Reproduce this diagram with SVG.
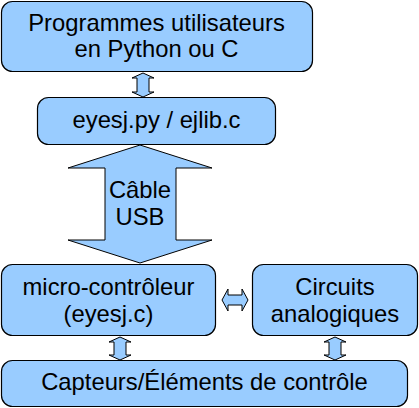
<svg xmlns="http://www.w3.org/2000/svg" width="419" height="408" viewBox="0 0 419 408">
<style>
.box{fill:#99ccff;stroke:#000;stroke-width:1.2}
.arr{fill:#99ccff;stroke:#000;stroke-width:1;stroke-linejoin:miter}
text{font-family:"Liberation Sans",Arial,sans-serif;font-size:23.8px;fill:#000;text-anchor:middle}
</style>
<rect width="419" height="408" fill="#fff"/>
<g id="connectors">
<polygon class="arr" points="143,73 154,78 149,78 149,92 154,92 143,97 132,92 137,92 137,78 132,78"/>
<polygon class="arr" points="140,145 212,168 176,168 176,240 212,240 140,263 68,240 105,240 105,168 68,168"/>
<polygon class="arr" points="222,300 228,289 228,295 242,295 242,289 248,300 242,311 242,305 228,305 228,311"/>
<polygon class="arr" points="120,337 131,342 126,342 126,355 131,355 120,360 109,355 114,355 114,342 109,342"/>
<polygon class="arr" points="335,337 346,342 341,342 341,355 346,355 335,360 324,355 329,355 329,342 324,342"/>
</g>
<g id="programmes">
<rect class="box" x="1.5" y="1.5" width="311" height="70" rx="11"/>
<text x="156.5" y="31">Programmes utilisateurs</text>
<text x="156.5" y="57">en Python ou C</text>
</g>
<g id="eyesj">
<rect class="box" x="37.5" y="97.5" width="238" height="47" rx="11"/>
<text x="156.5" y="128">eyesj.py / ejlib.c</text>
</g>
<g id="cable">
<text x="140" y="198">Câble</text>
<text x="140" y="225">USB</text>
</g>
<g id="micro">
<rect class="box" x="1.5" y="264.5" width="214" height="71" rx="11"/>
<text x="108.5" y="295">micro-contrôleur</text>
<text x="108.5" y="322">(eyesj.c)</text>
</g>
<g id="circuits">
<rect class="box" x="252.5" y="264.5" width="165" height="71" rx="11"/>
<text x="335" y="295">Circuits</text>
<text x="335" y="322">analogiques</text>
</g>
<g id="capteurs">
<rect class="box" x="1.5" y="360.5" width="406" height="46" rx="11"/>
<text x="204.5" y="390">Capteurs/Éléments de contrôle</text>
</g>
</svg>
